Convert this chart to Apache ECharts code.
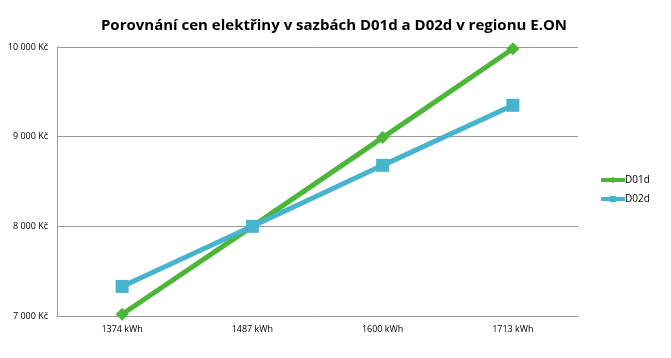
<!DOCTYPE html>
<html><head><meta charset="utf-8">
<script src="https://cdn.jsdelivr.net/npm/echarts@6/dist/echarts.min.js"></script>
<style>html,body{margin:0;padding:0;background:#fff}#c{width:671px;height:358px}</style>
</head><body><div id="c"></div>
<script>
const categories = ['1374 kWh', '1487 kWh', '1600 kWh', '1713 kWh'];
const d01d = [7020, 8000, 8990, 9980];
const d02d = [7330, 8000, 8680, 9350];
const seriesNames = ['D01d', 'D02d'];
const titleText = 'Porovnání cen elektřiny v sazbách D01d a D02d v regionu E.ON';

const chart = echarts.init(document.getElementById('c'));
chart.setOption({
  animation: false,
  title: { text: titleText, left: 329, top: 13, textAlign: 'center',
    textStyle: { fontFamily: 'Open Sans', fontWeight: 'bold', fontSize: 15, color: '#000' } },
  legend: { orient: 'vertical', left: 594, top: 170, itemGap: 9, itemWidth: 24, itemHeight: 8,
    lineStyle: { width: 4 },
    textStyle: { fontFamily: 'Open Sans', fontSize: 10, color: '#000', padding: [0,0,0,-5] },
    data: seriesNames },
  grid: { left: 57, right: 93, top: 47, bottom: 42 },
  xAxis: { type: 'category', data: categories, boundaryGap: true,
    axisLine: { lineStyle: { color: '#999', width: 1 } }, axisTick: { show: false },
    axisLabel: { fontFamily: 'Open Sans', fontSize: 9, color: '#000', margin: 9 } },
  yAxis: { type: 'value', min: 7000, max: 10000, interval: 1000,
    axisLine: { show: true, lineStyle: { color: '#999' } }, axisTick: { show: false },
    splitLine: { lineStyle: { color: '#999', width: 1 } },
    axisLabel: { fontFamily: 'Open Sans', fontSize: 9, color: '#000', margin: 9,
      formatter: v => String(v).replace(/\B(?=(\d{3})+(?!\d))/g, ' ') + ' Kč' } },
  series: [
    { name: seriesNames[0], type: 'line', data: d01d, symbol: 'diamond', symbolSize: 13,
      lineStyle: { width: 5, color: '#4cb636' }, itemStyle: { color: '#4cb636' } },
    { name: seriesNames[1], type: 'line', data: d02d, symbol: 'rect', symbolSize: 13,
      lineStyle: { width: 5, color: '#45b4cc' }, itemStyle: { color: '#45b4cc' } }
  ]
});
</script></body></html>
